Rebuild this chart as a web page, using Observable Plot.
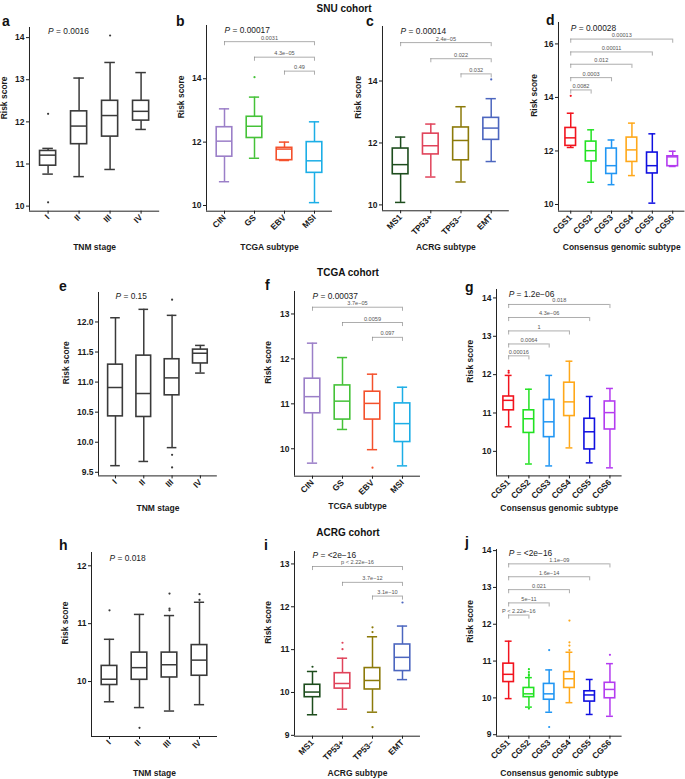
<!DOCTYPE html>
<html><head><meta charset="utf-8">
<script src="https://cdn.jsdelivr.net/npm/d3@7"></script>
<script src="https://cdn.jsdelivr.net/npm/@observablehq/plot@0.6"></script>
<style>
body{margin:0;background:#fff;}
#fig{position:relative;width:685px;height:779px;overflow:hidden;font-family:"Liberation Sans",Arial,sans-serif;background:#fff;}
.lbl{position:absolute;font-weight:bold;line-height:1;white-space:nowrap;color:#111;}
.panel{position:absolute;}
.panel svg{max-width:none !important;overflow:visible;background:transparent !important;}
</style></head><body><div id="fig"></div>
<script>
// ---------- data ----------
const stageCats = ["I","II","III","IV"];
const tcgaCats = ["CIN","GS","EBV","MSI"];
const acrgCats = ["MS1","TP53+","TP53−","EMT"];
const cgsCats = ["CGS1","CGS2","CGS3","CGS4","CGS5","CGS6"];

// a: SNU, TNM stage
const aLow  = [10.76, 10.70, 10.87, 11.82];
const aQ1   = [10.96, 11.47, 11.65, 12.03];
const aMed  = [11.21, 11.90, 12.15, 12.25];
const aQ3   = [11.31, 12.25, 12.50, 12.50];
const aHigh = [11.37, 13.04, 13.41, 13.17];
const aOut  = [[12.19, 10.09], [], [14.05], []];

// b: SNU, TCGA subtype
const bLow  = [10.75, 11.49, 11.42, 10.09];
const bQ1   = [11.54, 12.13, 11.43, 11.03];
const bMed  = [12.03, 12.50, 11.78, 11.41];
const bQ3   = [12.47, 12.80, 11.82, 12.00];
const bHigh = [13.05, 13.42, 12.00, 12.64];
const bOut  = [[], [14.05], [], []];
const bPairs = [[0,3],[1,3],[2,3]];
const bBrY   = [15.17, 14.68, 14.24];
const bBrLab = ["0.0031", "4.3e−05", "0.49"];

// c: SNU, ACRG subtype
const cLow  = [10.08, 10.90, 10.74, 11.40];
const cQ1   = [10.99, 11.63, 11.44, 12.10];
const cMed  = [11.30, 11.91, 12.08, 12.48];
const cQ3   = [11.82, 12.30, 12.50, 12.81];
const cHigh = [12.19, 12.61, 13.17, 13.43];
const cOut  = [[], [], [], [14.05]];
const cPairs = [[0,3],[1,3],[2,3]];
const cBrY   = [15.24, 14.72, 14.23];
const cBrLab = ["2.4e−05", "0.022", "0.032"];

// d: SNU, consensus genomic subtype
const dLow  = [12.13, 10.83, 10.74, 11.08, 10.05, 11.42];
const dQ1   = [12.19, 11.61, 11.14, 11.59, 11.16, 11.43];
const dMed  = [12.49, 12.01, 11.45, 12.04, 11.45, 11.78];
const dQ3   = [12.86, 12.35, 12.09, 12.50, 11.94, 11.80];
const dHigh = [13.41, 12.79, 12.41, 13.04, 12.64, 11.99];
const dOut  = [[14.06], [], [], [], [], []];
const dPairs = [[0,1],[0,2],[0,3],[0,4],[0,5]];
const dBrY   = [14.28, 14.74, 15.24, 15.70, 16.18];
const dBrLab = ["0.0082", "0.0003", "0.012", "0.00011", "0.00013"];

// e: TCGA, TNM stage
const eLow  = [9.61, 9.68, 9.91, 11.15];
const eQ1   = [10.43, 10.42, 10.78, 11.31];
const eMed  = [10.91, 10.81, 11.07, 11.48];
const eQ3   = [11.29, 11.44, 11.38, 11.54];
const eHigh = [12.07, 12.21, 12.11, 11.61];
const eOut  = [[], [], [12.37, 9.79, 9.58], []];

// f: TCGA, TCGA subtype
const fLow  = [9.68, 10.43, 9.98, 9.62];
const fQ1   = [10.79, 10.65, 10.65, 10.15];
const fMed  = [11.16, 11.06, 11.01, 10.56];
const fQ3   = [11.56, 11.41, 11.27, 11.01];
const fHigh = [12.35, 12.03, 11.66, 11.37];
const fOut  = [[], [], [9.58], []];
const fPairs = [[0,3],[1,3],[2,3]];
const fBrY   = [13.15, 12.81, 12.48];
const fBrLab = ["3.7e−05", "0.0059", "0.097"];

// g: TCGA, consensus genomic subtype
const gLow  = [10.64, 9.67, 9.62, 10.09, 9.70, 9.57];
const gQ1   = [11.07, 10.48, 10.37, 10.92, 10.05, 10.57];
const gMed  = [11.33, 10.85, 10.77, 11.29, 10.51, 11.01];
const gQ3   = [11.43, 11.07, 11.34, 11.79, 10.85, 11.30];
const gHigh = [11.98, 11.62, 11.98, 12.35, 11.43, 11.64];
const gOut  = [[12.05, 12.10], [], [], [], [], []];
const gPairs = [[0,1],[0,2],[0,3],[0,4],[0,5]];
const gBrY   = [12.49, 12.80, 13.14, 13.49, 13.83];
const gBrLab = ["0.00016", "0.0064", "1", "4.3e−06", "0.018"];

// h: ACRG, TNM stage
const hLow  = [9.65, 9.55, 9.49, 9.60];
const hQ1   = [9.94, 10.03, 10.07, 10.10];
const hMed  = [10.04, 10.24, 10.29, 10.37];
const hQ3   = [10.27, 10.50, 10.50, 10.63];
const hHigh = [10.73, 11.16, 11.14, 11.37];
const hOut  = [[11.23], [9.20], [11.52, 11.26, 11.23], [11.51, 11.41]];

// i: ACRG, ACRG subtype
const iLow  = [9.48, 9.61, 9.54, 10.30];
const iQ1   = [9.89, 10.09, 10.07, 10.50];
const iMed  = [10.01, 10.21, 10.28, 10.82];
const iQ3   = [10.18, 10.45, 10.57, 11.12];
const iHigh = [10.49, 10.80, 11.30, 11.55];
const iOut  = [[10.60], [11.16, 11.01], [11.52, 11.41, 9.19], [12.10]];
const iPairs = [[0,3],[1,3],[2,3]];
const iBrY   = [12.94, 12.57, 12.25];
const iBrLab = ["p < 2.22e−16", "3.7e−12", "3.1e−10"];

// j: ACRG, consensus genomic subtype
const jLow  = [9.98, 9.75, 9.61, 9.87, 9.55, 9.50];
const jQ1   = [10.43, 10.02, 9.95, 10.27, 9.90, 9.99];
const jMed  = [10.64, 10.11, 10.11, 10.52, 10.08, 10.23];
const jQ3   = [10.93, 10.27, 10.38, 10.70, 10.18, 10.41];
const jHigh = [11.54, 10.55, 10.76, 11.24, 10.50, 10.93];
const jOut  = [[], [10.60, 10.64, 10.70, 10.78, 9.71], [11.30, 9.21], [12.10, 11.51, 11.42, 11.30], [], [11.17]];
const jPairs = [[0,1],[0,2],[0,3],[0,4],[0,5]];
const jBrY   = [12.25, 12.58, 12.94, 13.29, 13.64];
const jBrLab = ["P < 2.22e−16", "5e−11", "0.021", "1.6e−14", "1.1e−09"];

const pValues = {a:"0.0016", b:"0.00017", c:"0.00014", d:"0.00028", e:"0.15", f:"0.00037", g:"1.2e−06", h:"0.018", i:"<2e−16", j:"<2e−16"};
const cohortTitles = ["SNU cohort", "TCGA cohort", "ACRG cohort"];

// ---------- styles ----------
const grey = ["#3a3a3a","#3a3a3a","#3a3a3a","#3a3a3a"];
const tcgaCol = ["#9b7fc8","#45c238","#f4512c","#1caee6"];
const acrgCol = ["#1d4d1d","#e0435a","#8c7a0a","#4c66bf"];
const cgsCol = ["#f2141e","#22e222","#2196f3","#ffa81a","#1010e0","#b43cf0"];

const fig = document.getElementById("fig");
const ML = 45, MR = 4, MT = 8, MB = 50;

function panel(cfg) {
  const n = cfg.cats.length;
  const rows = cfg.cats.map((c, i) => ({i, c, lo: cfg.low[i], q1: cfg.q1[i], med: cfg.med[i], q3: cfg.q3[i], hi: cfg.high[i], col: cfg.colors[i]}));
  const outs = cfg.out.flatMap((vs, i) => vs.map(v => ({i, v, col: cfg.colors[i]})));
  const br = (cfg.pairs || []).map((p, k) => ({a: p[0], b: p[1], h: cfg.brY[k], t: cfg.brLab[k], m: (p[0] + p[1]) / 2}));
  const xdom = [-0.6, n - 0.4];
  const span = cfg.ydom[1] - cfg.ydom[0];
  const tk = span * 0.022;
  const bw = 0.26, cw = 0.17;
  const plotW = (n + 0.2) * cfg.sp, plotH = cfg.bottom - cfg.top;
  const axisX = cfg.x0 - 0.6 * cfg.sp;
  const pfs = 8.4;
  const svg = Plot.plot({
    width: ML + plotW + MR, height: MT + plotH + MB,
    marginLeft: ML, marginRight: MR, marginTop: MT, marginBottom: MB,
    style: {fontFamily: "Liberation Sans, Arial, sans-serif", fontWeight: "bold", fontSize: "8.5px", color: "#1a1a1a", background: "transparent", overflow: "visible"},
    x: {type: "linear", domain: xdom},
    y: {domain: cfg.ydom},
    color: {type: "identity"},
    marks: [
      Plot.ruleY(br, {y: "h", x1: "a", x2: "b", stroke: "#8a8a8a", strokeWidth: 0.7}),
      Plot.ruleX(br, {x: "a", y1: "h", y2: d => d.h - tk, stroke: "#8a8a8a", strokeWidth: 0.7}),
      Plot.ruleX(br, {x: "b", y1: "h", y2: d => d.h - tk, stroke: "#8a8a8a", strokeWidth: 0.7}),
      Plot.text(br, {x: "m", y: "h", text: "t", dy: -2, lineAnchor: "bottom", fontSize: 5.6, fontWeight: "normal", fill: "#555"}),
      Plot.ruleX(rows, {x: "i", y1: "lo", y2: "q1", stroke: "col", strokeWidth: 1.5}),
      Plot.ruleX(rows, {x: "i", y1: "q3", y2: "hi", stroke: "col", strokeWidth: 1.5}),
      Plot.rect(rows, {x1: d => d.i - bw, x2: d => d.i + bw, y1: "q1", y2: "q3", fill: "white", stroke: "col", strokeWidth: 1.6}),
      Plot.ruleY(rows, {y: "med", x1: d => d.i - bw, x2: d => d.i + bw, stroke: "col", strokeWidth: 1.5}),
      Plot.ruleY(rows, {y: "lo", x1: d => d.i - cw, x2: d => d.i + cw, stroke: "col", strokeWidth: 1.5}),
      Plot.ruleY(rows, {y: "hi", x1: d => d.i - cw, x2: d => d.i + cw, stroke: "col", strokeWidth: 1.5}),
      Plot.dot(outs, {x: "i", y: "v", r: 1.1, fill: "col", stroke: null}),
      Plot.ruleX([xdom[0]], {stroke: "#222", strokeWidth: 1}),
      Plot.ruleY([cfg.ydom[0]], {stroke: "#222", strokeWidth: 1}),
      Plot.axisX({ticks: d3.range(n), tickFormat: i => cfg.cats[i], tickRotate: -45, tickSize: 3, tickPadding: 2, label: null}),
      Plot.axisY({ticks: cfg.yticks, tickFormat: cfg.yfmt || (d => d), tickSize: 3, tickPadding: 2, label: null}),
      Plot.text(["P"], {x: 0, frameAnchor: "top", dy: cfg.pdy, textAnchor: "start", lineAnchor: "middle", fontStyle: "italic", fontWeight: "normal", fontSize: pfs}),
      Plot.text(["\u00a0= " + cfg.p], {x: 0, frameAnchor: "top", dy: cfg.pdy, dx: pfs * 0.667, textAnchor: "start", lineAnchor: "middle", fontWeight: "normal", fontSize: pfs}),
      Plot.text(["Risk score"], {frameAnchor: "left", rotate: -90, dx: -cfg.yoff, fontSize: 8.5, lineAnchor: "middle"}),
      Plot.text([cfg.xlabel], {frameAnchor: "bottom", dy: cfg.xoff, fontSize: 8.5, lineAnchor: "middle"})
    ]
  });
  const wrap = document.createElement("div");
  wrap.className = "panel";
  wrap.style.left = (axisX - ML) + "px";
  wrap.style.top = (cfg.top - MT) + "px";
  wrap.appendChild(svg);
  fig.appendChild(wrap);
}

function label(text, x, baseline, size, center) {
  const el = document.createElement("div");
  el.className = "lbl";
  el.textContent = text;
  el.style.fontSize = size + "px";
  el.style.top = (baseline - 0.85 * size) + "px";
  el.style.left = x + "px";
  if (center) el.style.transform = "translateX(-50%)";
  fig.appendChild(el);
}

panel({cats: stageCats, colors: grey, low: aLow, q1: aQ1, med: aMed, q3: aQ3, high: aHigh, out: aOut,
  x0: 47.5, sp: 31, top: 27, bottom: 210.7, ydom: [9.88, 14.24], yticks: [10,11,12,13,14], p: pValues.a, pdy: 3.5, yoff: 25, xoff: 36.3, xlabel: "TNM stage"});
panel({cats: tcgaCats, colors: tcgaCol, low: bLow, q1: bQ1, med: bMed, q3: bQ3, high: bHigh, out: bOut, pairs: bPairs, brY: bBrY, brLab: bBrLab,
  x0: 224.3, sp: 30, top: 25, bottom: 210.7, ydom: [9.82, 15.68], yticks: [10,12,14], p: pValues.b, pdy: 4.5, yoff: 25, xoff: 36, xlabel: "TCGA subtype"});
panel({cats: acrgCats, colors: acrgCol, low: cLow, q1: cQ1, med: cMed, q3: cQ3, high: cHigh, out: cOut, pairs: cPairs, brY: cBrY, brLab: cBrLab,
  x0: 400.3, sp: 30.2, top: 26, bottom: 210.3, ydom: [9.81, 15.76], yticks: [10,12,14], p: pValues.c, pdy: 4.3, yoff: 24, xoff: 36.5, xlabel: "ACRG subtype"});
panel({cats: cgsCats, colors: cgsCol, low: dLow, q1: dQ1, med: dMed, q3: dQ3, high: dHigh, out: dOut, pairs: dPairs, brY: dBrY, brLab: dBrLab,
  x0: 570.3, sp: 20.4, top: 22, bottom: 210.7, ydom: [9.75, 16.8], yticks: [10,12,14,16], p: pValues.d, pdy: 5.8, yoff: 24, xoff: 36.5, xlabel: "Consensus genomic subtype"});
panel({cats: stageCats, colors: grey, low: eLow, q1: eQ1, med: eMed, q3: eQ3, high: eHigh, out: eOut,
  x0: 115, sp: 28.3, top: 292.3, bottom: 475.7, ydom: [9.44, 12.49], yticks: [9.5,10,10.5,11,11.5,12], yfmt: d3.format(".1f"), p: pValues.e, pdy: 3.5, yoff: 32, xoff: 32, xlabel: "TNM stage"});
panel({cats: tcgaCats, colors: tcgaCol, low: fLow, q1: fQ1, med: fMed, q3: fQ3, high: fHigh, out: fOut, pairs: fPairs, brY: fBrY, brLab: fBrLab,
  x0: 312, sp: 30, top: 291, bottom: 475.7, ydom: [9.39, 13.5], yticks: [10,11,12,13], p: pValues.f, pdy: 4.5, yoff: 26, xoff: 30, xlabel: "TCGA subtype"});
panel({cats: cgsCats, colors: cgsCol, low: gLow, q1: gQ1, med: gMed, q3: gQ3, high: gHigh, out: gOut, pairs: gPairs, brY: gBrY, brLab: gBrLab,
  x0: 507.7, sp: 20.26, top: 289.3, bottom: 475.7, ydom: [9.36, 14.22], yticks: [10,11,12,13,14], p: pValues.g, pdy: 4.8, yoff: 26.5, xoff: 32, xlabel: "Consensus genomic subtype"});
panel({cats: stageCats, colors: grey, low: hLow, q1: hQ1, med: hMed, q3: hQ3, high: hHigh, out: hOut,
  x0: 108.7, sp: 30, top: 551.7, bottom: 735.7, ydom: [9.05, 12.23], yticks: [10,11,12], p: pValues.h, pdy: 5.6, yoff: 26, xoff: 36.6, xlabel: "TNM stage"});
panel({cats: acrgCats, colors: acrgCol, low: iLow, q1: iQ1, med: iMed, q3: iQ3, high: iHigh, out: iOut, pairs: iPairs, brY: iBrY, brLab: iBrLab,
  x0: 311.7, sp: 30, top: 551, bottom: 735.7, ydom: [8.98, 13.29], yticks: [9,10,11,12,13], p: pValues.i, pdy: 3.5, yoff: 26, xoff: 36.6, xlabel: "ACRG subtype"});
panel({cats: cgsCats, colors: cgsCol, low: jLow, q1: jQ1, med: jMed, q3: jQ3, high: jHigh, out: jOut, pairs: jPairs, brY: jBrY, brLab: jBrLab,
  x0: 507.7, sp: 20.26, top: 549, bottom: 735.7, ydom: [8.96, 14.03], yticks: [9,10,11,12,13,14], p: pValues.j, pdy: 3.6, yoff: 26.5, xoff: 36.6, xlabel: "Consensus genomic subtype"});

// cohort titles and panel letters
label(cohortTitles[0], 344, 12, 10, true);
label(cohortTitles[1], 348, 276, 10, true);
label(cohortTitles[2], 348, 536, 10, true);
[["a",2,26],["b",176,26],["c",366,26],["d",546,25],["e",59,291],["f",265,290],["g",465,292],["h",59,550],["i",264,550],["j",465,547]]
  .forEach(([t,x,y]) => label(t, x, y, 14, false));
</script></body></html>
